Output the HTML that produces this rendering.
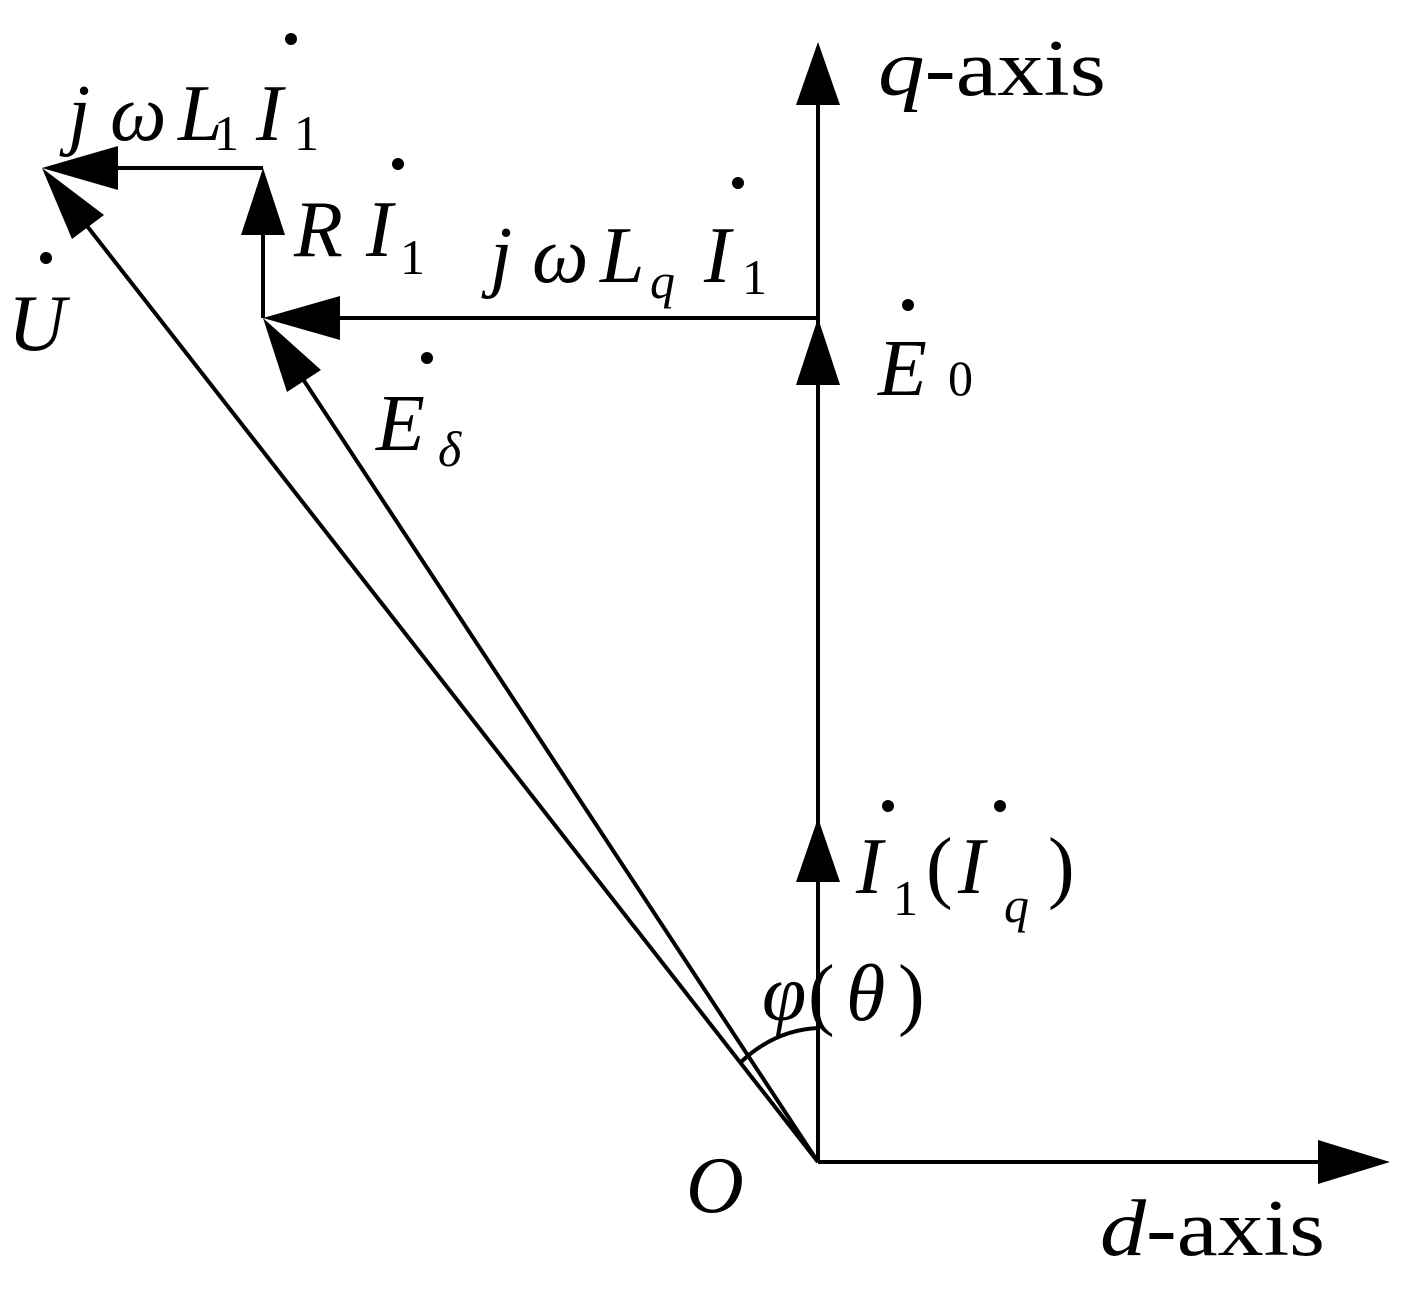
<!DOCTYPE html>
<html><head><meta charset="utf-8"><style>
html,body{margin:0;padding:0;background:#fff;}
svg{display:block;}
text{font-family:"Liberation Serif",serif;fill:#000;}
.i{font-style:italic;}
.m{font-size:80px;}
.s{font-size:50px;}
</style></head><body>
<svg width="1403" height="1295" viewBox="0 0 1403 1295" xmlns="http://www.w3.org/2000/svg">
<g stroke="#000" stroke-width="4" fill="none">
<line x1="818" y1="1162" x2="1330" y2="1162"/>
<line x1="818" y1="1162" x2="818" y2="90"/>
<line x1="818" y1="318" x2="320" y2="318"/>
<line x1="263" y1="318" x2="263" y2="220"/>
<line x1="263" y1="168" x2="100" y2="168"/>
<line x1="818" y1="1162" x2="80" y2="217"/>
<line x1="818" y1="1162" x2="295" y2="367"/>
<path d="M741,1062 Q775,1030 818,1028"/>
</g>
<g fill="#000">
<polygon points="1390,1162 1318,1140 1318,1184"/>
<polygon points="818,42 796,105 840,105"/>
<polygon points="818,318 796,385 840,385"/>
<polygon points="818,818 796,882 840,882"/>
<polygon points="263,318 340,296 340,340"/>
<polygon points="263,168 241,235 285,235"/>
<polygon points="42,168 118,146 118,190"/>
<polygon points="42,168 104,215 72,239"/>
<polygon points="263,318 321,370 287,392"/>
<circle cx="291" cy="39" r="6"/>
<circle cx="398" cy="164" r="6"/>
<circle cx="738" cy="183" r="6"/>
<circle cx="46" cy="258" r="6"/>
<circle cx="908" cy="305" r="6"/>
<circle cx="427" cy="358" r="6"/>
<circle cx="888" cy="806" r="6"/>
<circle cx="1000" cy="806" r="6"/>
</g>
<text x="878" y="95" class="m" textLength="228" lengthAdjust="spacingAndGlyphs"><tspan class="i">q</tspan>-axis</text>
<text x="1100" y="1255" class="m" textLength="225" lengthAdjust="spacingAndGlyphs"><tspan class="i">d</tspan>-axis</text>
<text x="686" y="1212" class="m i">O</text>
<!-- jωL1 I1 -->
<text x="68" y="140" class="m i">j</text>
<text x="110" y="140" class="m i">ω</text>
<text x="178" y="140" class="m i">L</text>
<text x="214" y="150" class="s">1</text>
<text x="256" y="140" class="m i">I</text>
<text x="294" y="150" class="s">1</text>
<!-- R I1 -->
<text x="294" y="256" class="m i">R</text>
<text x="366" y="256" class="m i">I</text>
<text x="400" y="274" class="s">1</text>
<!-- jωLq I1 -->
<text x="490" y="282" class="m i">j</text>
<text x="532" y="282" class="m i">ω</text>
<text x="600" y="282" class="m i">L</text>
<text x="650" y="298" class="s i">q</text>
<text x="704" y="282" class="m i">I</text>
<text x="742" y="294" class="s">1</text>
<!-- U -->
<text x="8" y="350" class="m i">U</text>
<!-- E0 -->
<text x="878" y="395" class="m i">E</text>
<text x="948" y="395" class="s">0</text>
<!-- Edelta -->
<text x="376" y="450" class="m i">E</text>
<text x="438" y="466" class="s i">δ</text>
<!-- I1(Iq) -->
<text x="856" y="893" class="m i">I</text>
<text x="893" y="915" class="s">1</text>
<text x="926" y="893" class="m">(</text>
<text x="958" y="893" class="m i">I</text>
<text x="1004" y="922" class="s i">q</text>
<text x="1048" y="893" class="m">)</text>
<!-- phi(theta) -->
<text x="762" y="1020" class="m i">φ</text>
<text x="808" y="1020" class="m">(</text>
<text x="846" y="1020" class="m i">θ</text>
<text x="898" y="1020" class="m">)</text>
</svg>
</body></html>
